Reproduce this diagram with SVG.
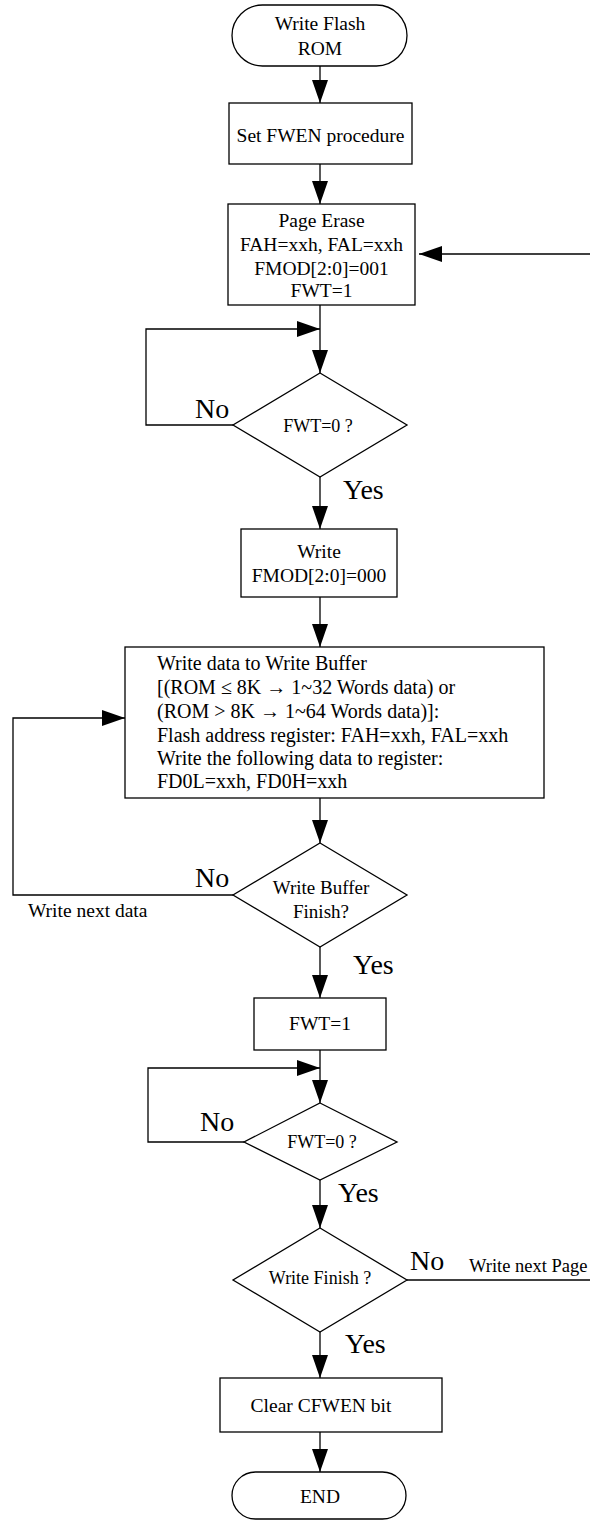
<svg xmlns="http://www.w3.org/2000/svg" width="590" height="1522" viewBox="0 0 590 1522">
<style>
.s{fill:#fff;stroke:#000;stroke-width:1.3}
.c{fill:none;stroke:#000;stroke-width:1.3}
text{font-family:"Liberation Serif","Times New Roman",serif;fill:#000}
.t{font-size:19.5px;text-anchor:middle}
.l{font-size:19.5px}
.b{font-size:20px}
.d{font-size:18px;text-anchor:middle}
.y{font-size:28px}
</style>
<defs>
<marker id="ah" markerUnits="userSpaceOnUse" markerWidth="23" markerHeight="16" viewBox="0 0 23 16" refX="23" refY="8" orient="auto">
<path d="M0,0 L23,8 L0,16 z" fill="#000"/>
</marker>
</defs>
<rect width="590" height="1522" fill="#fff"/>
<g id="connectors">
<path class="c" d="M320,66 V103" marker-end="url(#ah)"/>
<path class="c" d="M320,164 V204" marker-end="url(#ah)"/>
<path class="c" d="M590,254 H419" marker-end="url(#ah)"/>
<path class="c" d="M320,305 V373" marker-end="url(#ah)"/>
<path class="c" d="M233,425 H146 V329 H320" marker-end="url(#ah)"/>
<path class="c" d="M320,477 V529" marker-end="url(#ah)"/>
<path class="c" d="M320,597 V647" marker-end="url(#ah)"/>
<path class="c" d="M320,798 V843" marker-end="url(#ah)"/>
<path class="c" d="M233,895 H13 V718 H125" marker-end="url(#ah)"/>
<path class="c" d="M320,947 V998" marker-end="url(#ah)"/>
<path class="c" d="M320,1050 V1103" marker-end="url(#ah)"/>
<path class="c" d="M244,1142 H148 V1068 H320" marker-end="url(#ah)"/>
<path class="c" d="M320,1180 V1228" marker-end="url(#ah)"/>
<path class="c" d="M407,1280 H590"/>
<path class="c" d="M320,1332 V1378" marker-end="url(#ah)"/>
<path class="c" d="M320,1432 V1472" marker-end="url(#ah)"/>
<text class="y" x="195" y="418">No</text>
<text class="y" x="343" y="499">Yes</text>
<text class="y" x="195" y="887">No</text>
<text class="l" x="28" y="917">Write next data</text>
<text class="y" x="353" y="974">Yes</text>
<text class="y" x="200" y="1131">No</text>
<text class="y" x="338" y="1202">Yes</text>
<text class="y" x="410" y="1270">No</text>
<text class="l" x="469" y="1272" style="font-size:18.5px">Write next Page</text>
<text class="y" x="345" y="1353">Yes</text>
</g>
<g id="start">
<rect class="s" x="232" y="5" width="175" height="61" rx="30.5"/>
<text class="t" x="320" y="30">Write Flash</text>
<text class="t" x="320" y="55">ROM</text>
</g>
<g id="setfwen">
<rect class="s" x="229" y="103" width="183" height="61"/>
<text class="t" x="320.5" y="142">Set FWEN procedure</text>
</g>
<g id="pageerase">
<rect class="s" x="228" y="204" width="187" height="101"/>
<text class="t" x="321.5" y="227">Page Erase</text>
<text class="t" x="321.5" y="251">FAH=xxh, FAL=xxh</text>
<text class="t" x="321.5" y="275">FMOD[2:0]=001</text>
<text class="t" x="321.5" y="297">FWT=1</text>
</g>
<g id="fwt0a">
<polygon class="s" points="320,373 407,425 320,477 233,425"/>
<text class="d" x="318" y="432">FWT=0 ?</text>
</g>
<g id="write">
<rect class="s" x="241" y="529" width="156" height="68"/>
<text class="t" x="319" y="558">Write</text>
<text class="t" x="319" y="582">FMOD[2:0]=000</text>
</g>
<g id="writebuffer">
<rect class="s" x="125" y="647" width="419" height="151"/>
<text class="b" x="157" y="670">Write data to Write Buffer</text>
<text class="b" x="157" y="694">[(ROM ≤ 8K → 1~32 Words data) or</text>
<text class="b" x="157" y="718">(ROM &gt; 8K → 1~64 Words data)]:</text>
<text class="b" x="157" y="742">Flash address register: FAH=xxh, FAL=xxh</text>
<text class="b" x="157" y="765">Write the following data to register:</text>
<text class="b" x="157" y="788">FD0L=xxh, FD0H=xxh</text>
</g>
<g id="bufferfinish">
<polygon class="s" points="320,843 407,895 320,947 233,895"/>
<text class="d" x="321" y="894" style="font-size:19px">Write Buffer</text>
<text class="d" x="321" y="918" style="font-size:19px">Finish?</text>
</g>
<g id="fwt1">
<rect class="s" x="254" y="998" width="132" height="52"/>
<text class="t" x="320" y="1030">FWT=1</text>
</g>
<g id="fwt0b">
<polygon class="s" points="320,1103 397,1142 320,1180 244,1142"/>
<text class="d" x="322" y="1148">FWT=0 ?</text>
</g>
<g id="writefinish">
<polygon class="s" points="320,1228 407,1280 320,1332 233,1280"/>
<text class="d" x="320" y="1284">Write Finish ?</text>
</g>
<g id="clearcfwen">
<rect class="s" x="220" y="1378" width="222" height="54"/>
<text class="t" x="321" y="1412">Clear CFWEN bit</text>
</g>
<g id="end">
<rect class="s" x="232" y="1472" width="174" height="47" rx="23.5"/>
<text class="t" x="320" y="1503">END</text>
</g>
</svg>
